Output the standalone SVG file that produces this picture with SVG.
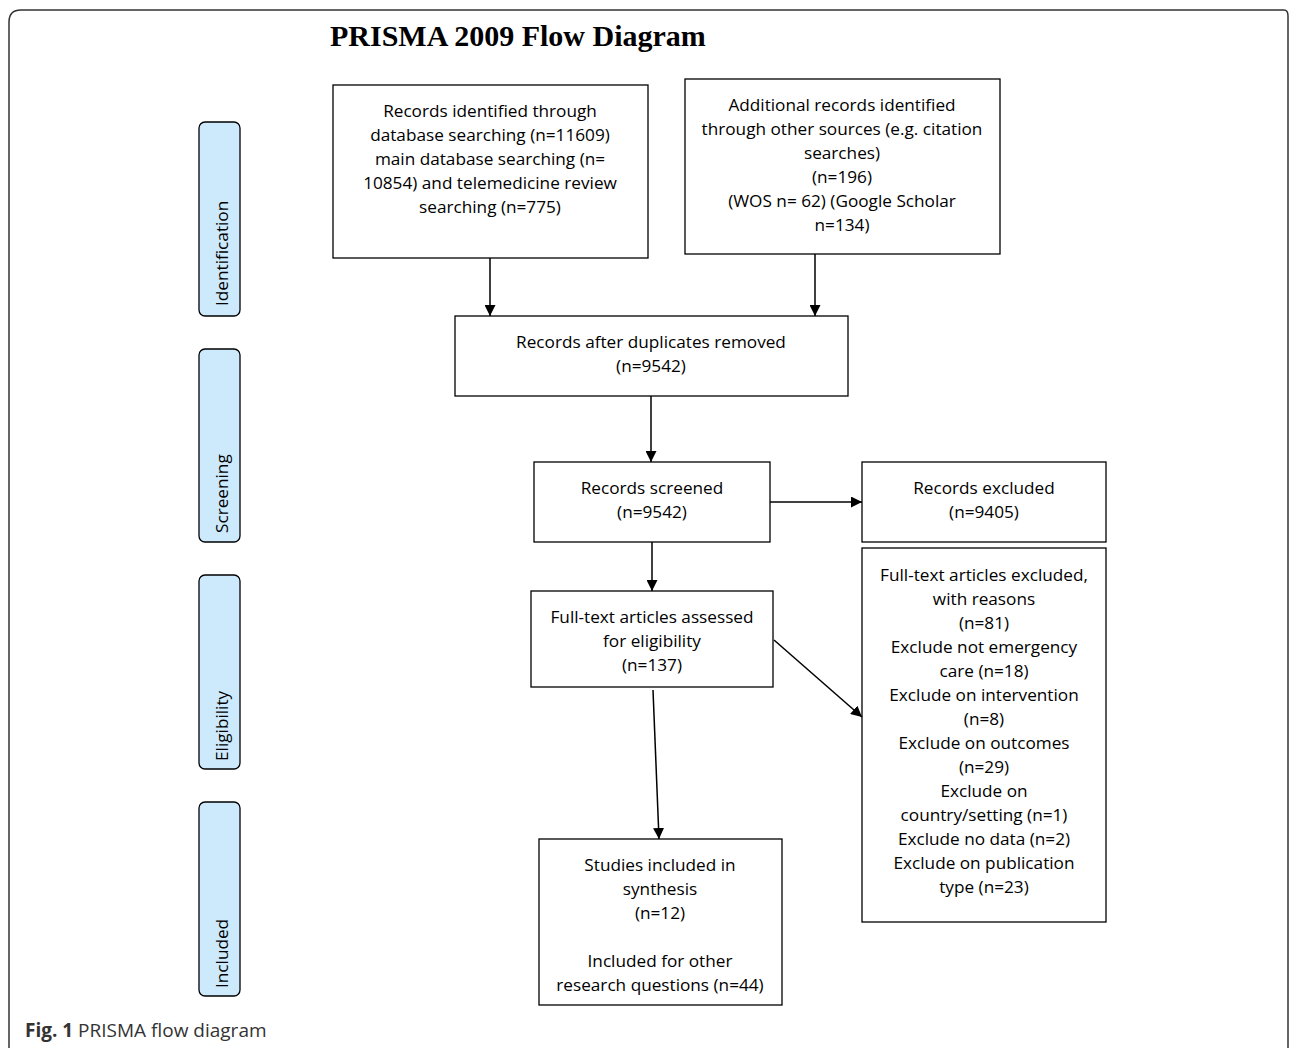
<svg xmlns="http://www.w3.org/2000/svg" width="1290" height="1048" viewBox="0 0 1290 1048">
<style>
.box{fill:#fff;stroke:#000;stroke-width:1.3}
.side{fill:#cdeafc;stroke:#000;stroke-width:1.3}
.t{font-family:"Open Sans","Noto Sans",sans-serif;font-size:17.2px;fill:#000;text-anchor:middle}
.s{font-family:"Open Sans","Noto Sans",sans-serif;font-size:17.2px;fill:#000}
.c{stroke:#000;stroke-width:1.5;fill:none;marker-end:url(#ah)}
</style>
<defs>
<marker id="ah" viewBox="0 0 10 10" refX="10" refY="5" markerWidth="11" markerHeight="11" markerUnits="userSpaceOnUse" orient="auto">
<path d="M0,0 L10,5 L0,10 z" fill="#000"/>
</marker>
</defs>
<rect width="1290" height="1048" fill="#fff"/>
<path d="M9,1060 L9,22 Q9,10 21,10 L1284,10 Q1288,10 1288,16 L1288,1060" fill="none" stroke="#333" stroke-width="1.5"/>
<text x="330" y="46" font-family="Liberation Serif,serif" font-weight="bold" font-size="30">PRISMA 2009 Flow Diagram</text>

<g id="side-identification"><rect class="side" x="199" y="122" width="41" height="194" rx="6"/><text class="s" transform="translate(228,306) rotate(-90)">Identification</text></g>
<g id="side-screening"><rect class="side" x="199" y="349" width="41" height="193" rx="6"/><text class="s" transform="translate(228,533) rotate(-90)">Screening</text></g>
<g id="side-eligibility"><rect class="side" x="199" y="575" width="41" height="194" rx="6"/><text class="s" transform="translate(228,761) rotate(-90)">Eligibility</text></g>
<g id="side-included"><rect class="side" x="199" y="802" width="41" height="194" rx="6"/><text class="s" transform="translate(228,988) rotate(-90)">Included</text></g>

<g id="identified"><rect class="box" x="333" y="85" width="315" height="173"/>
<text class="t" x="490" y="117">Records identified through</text>
<text class="t" x="490" y="141">database searching (n=11609)</text>
<text class="t" x="490" y="165">main database searching (n=</text>
<text class="t" x="490" y="189">10854) and telemedicine review</text>
<text class="t" x="490" y="213">searching (n=775)</text></g>

<g id="additional"><rect class="box" x="685" y="79" width="315" height="175"/>
<text class="t" x="842" y="111">Additional records identified</text>
<text class="t" x="842" y="135">through other sources (e.g. citation</text>
<text class="t" x="842" y="159">searches)</text>
<text class="t" x="842" y="183">(n=196)</text>
<text class="t" x="842" y="207">(WOS n= 62) (Google Scholar</text>
<text class="t" x="842" y="231">n=134)</text></g>

<g id="duplicates"><rect class="box" x="455" y="316" width="393" height="80"/>
<text class="t" x="651" y="348">Records after duplicates removed</text>
<text class="t" x="651" y="372">(n=9542)</text></g>

<g id="screened"><rect class="box" x="534" y="462" width="236" height="80"/>
<text class="t" x="652" y="494">Records screened</text>
<text class="t" x="652" y="518">(n=9542)</text></g>

<g id="excluded"><rect class="box" x="862" y="462" width="244" height="80"/>
<text class="t" x="984" y="494">Records excluded</text>
<text class="t" x="984" y="518">(n=9405)</text></g>

<g id="assessed"><rect class="box" x="531" y="591" width="242" height="96"/>
<text class="t" x="652" y="623">Full-text articles assessed</text>
<text class="t" x="652" y="647">for eligibility</text>
<text class="t" x="652" y="671">(n=137)</text></g>

<g id="fulltext-excluded"><rect class="box" x="862" y="548" width="244" height="374"/>
<text class="t" x="984" y="581">Full-text articles excluded,</text>
<text class="t" x="984" y="605">with reasons</text>
<text class="t" x="984" y="629">(n=81)</text>
<text class="t" x="984" y="653">Exclude not emergency</text>
<text class="t" x="984" y="677">care (n=18)</text>
<text class="t" x="984" y="701">Exclude on intervention</text>
<text class="t" x="984" y="725">(n=8)</text>
<text class="t" x="984" y="749">Exclude on outcomes</text>
<text class="t" x="984" y="773">(n=29)</text>
<text class="t" x="984" y="797">Exclude on</text>
<text class="t" x="984" y="821">country/setting (n=1)</text>
<text class="t" x="984" y="845">Exclude no data (n=2)</text>
<text class="t" x="984" y="869">Exclude on publication</text>
<text class="t" x="984" y="893">type (n=23)</text></g>

<g id="included"><rect class="box" x="539" y="839" width="243" height="166"/>
<text class="t" x="660" y="871">Studies included in</text>
<text class="t" x="660" y="895">synthesis</text>
<text class="t" x="660" y="919">(n=12)</text>
<text class="t" x="660" y="967">Included for other</text>
<text class="t" x="660" y="991">research questions (n=44)</text></g>

<g id="connectors">
<line class="c" x1="490" y1="258" x2="490" y2="316"/>
<line class="c" x1="815" y1="254" x2="815" y2="316"/>
<line class="c" x1="651" y1="396" x2="651" y2="462"/>
<line class="c" x1="770" y1="502" x2="862" y2="502"/>
<line class="c" x1="652" y1="542" x2="652" y2="591"/>
<line class="c" x1="774" y1="640" x2="862" y2="717"/>
<line class="c" x1="653" y1="690" x2="659" y2="839"/>
</g>

<text x="25" y="1037" font-family="Open Sans,sans-serif" font-size="19" fill="#333"><tspan font-weight="bold">Fig. 1</tspan> PRISMA flow diagram</text>
</svg>
